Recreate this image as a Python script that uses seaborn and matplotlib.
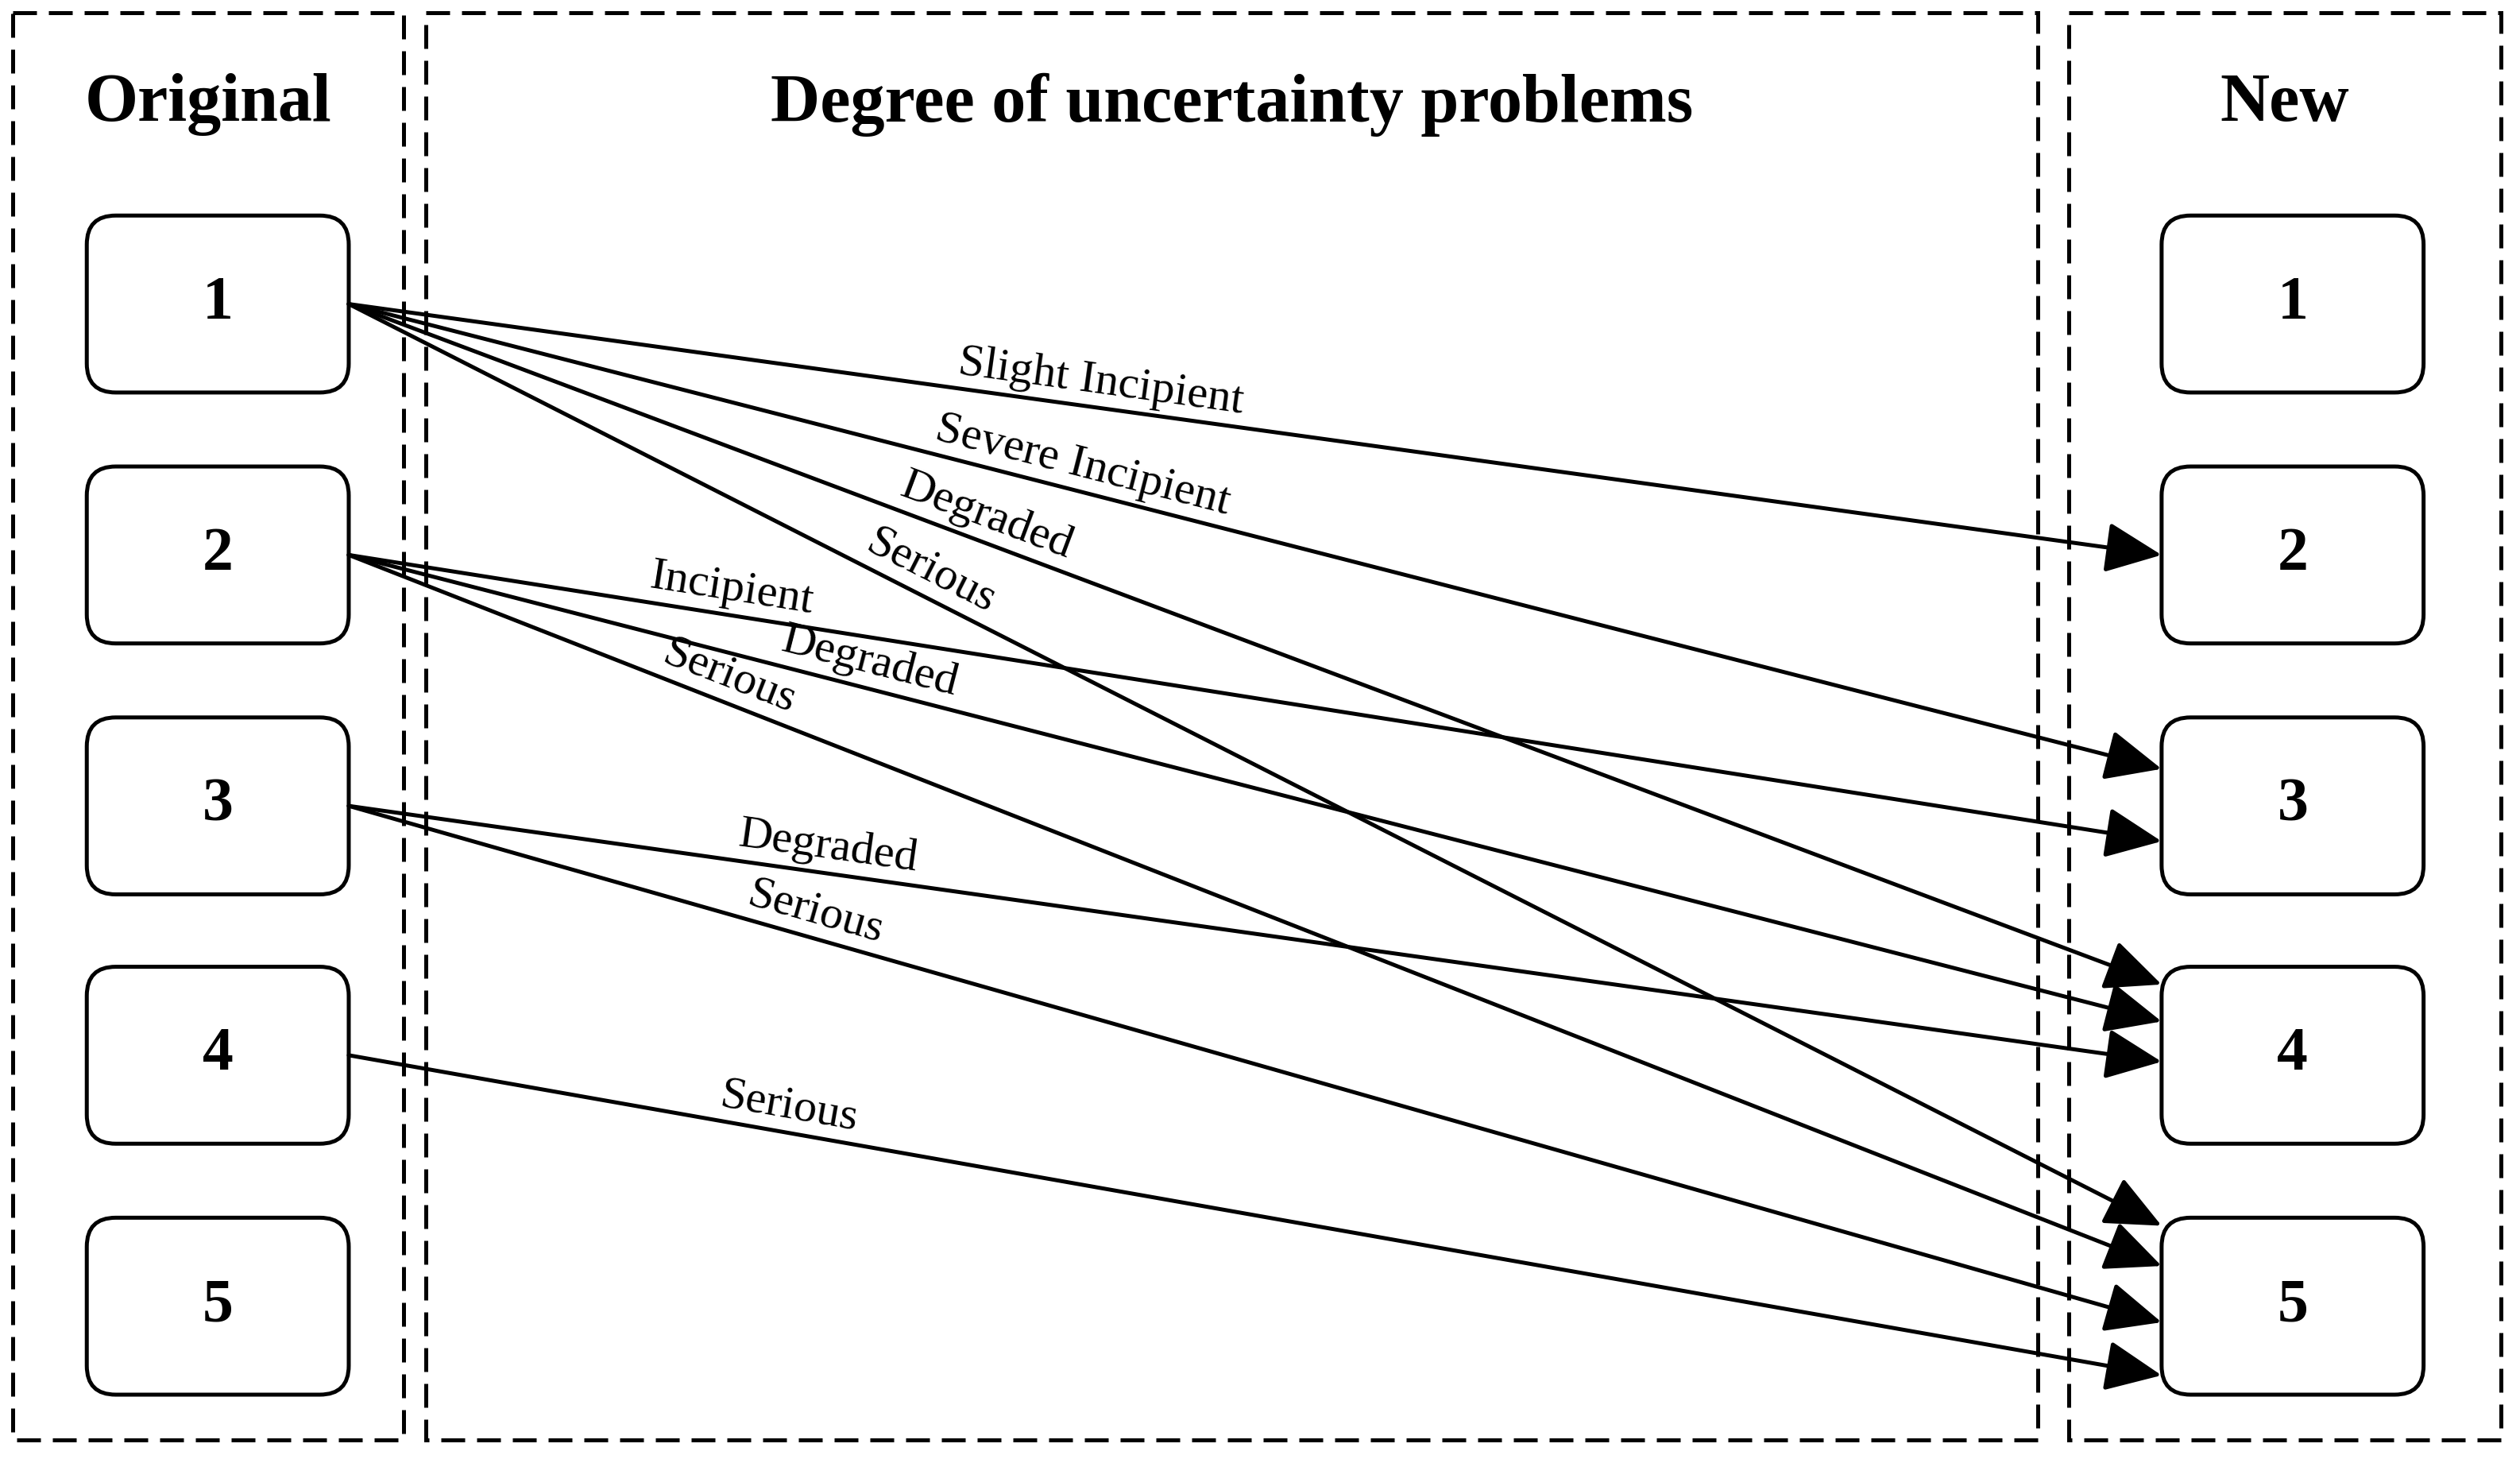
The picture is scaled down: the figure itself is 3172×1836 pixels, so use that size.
import numpy as np
import matplotlib
matplotlib.use("Agg")
import matplotlib.pyplot as plt
import seaborn as sns
from matplotlib.patches import FancyBboxPatch, Rectangle

sns.set_theme(style="white")
plt.rcParams['font.family'] = ['Liberation Serif', 'DejaVu Serif']
plt.rcParams['text.color'] = 'black'

# Data
node_labels = ["1", "2", "3", "4", "5"]
node_y = [189, 345, 501, 656, 812]
edge_src = [1, 1, 1, 1, 2, 2, 2, 3, 3, 4]
edge_dst = [2, 3, 4, 5, 3, 4, 5, 4, 5, 5]
edge_end_y = [345, 478, 612, 762, 523, 635, 787, 660, 822, 855]
edge_labels = ["Slight Incipient", "Severe Incipient", "Degraded", "Serious",
               "Incipient", "Degraded", "Serious", "Degraded", "Serious", "Serious"]
label_x = [683, 670, 608, 572, 453, 537, 448, 513, 503, 488]
panel_titles = ["Original", "Degree of uncertainty problems", "New"]

W, H = 1568, 907
fig = plt.figure(figsize=(15.86, 9.18), dpi=200)
ax = fig.add_axes([0, 0, 1, 1])
ax.set_xlim(0, W)
ax.set_ylim(H, 0)
ax.axis("off")

# Panels
panels = [(8, 251), (265, 1268), (1287, 1556)]
for (x0, x1), t in zip(panels, panel_titles):
    ax.add_patch(Rectangle((x0, 8), x1 - x0, 887, fill=False, ls=(0, (6, 3)), lw=1.8, ec="black"))
    ax.text((x0 + x1) / 2, 65, t, ha="center", va="center", fontsize=31,
            fontweight="bold", color="black")

# Boxes
lx0, lx1, rx0, rx1 = 54, 217, 1345, 1508
bh = 110
for lab, y in zip(node_labels, node_y):
    for x0, x1 in [(lx0, lx1), (rx0, rx1)]:
        ax.add_patch(FancyBboxPatch((x0, y - bh / 2), x1 - x0, bh,
                                    boxstyle="round,pad=0,rounding_size=18",
                                    fc="white", ec="black", lw=1.8))
        ax.text((x0 + x1) / 2, y, lab, ha="center", va="center", fontsize=28,
                fontweight="bold", color="black")

# Edges
for s, d, ey, lab, lxp in zip(edge_src, edge_dst, edge_end_y, edge_labels, label_x):
    sx, sy = lx1, node_y[s - 1]
    ex = rx0
    ax.annotate("", xy=(ex, ey), xytext=(sx, sy),
                arrowprops=dict(arrowstyle="-|>,head_length=1.0,head_width=0.45",
                                mutation_scale=22, lw=1.8, color="black",
                                shrinkA=0, shrinkB=0))
    slope = (ey - sy) / (ex - sx)
    ly = sy + slope * (lxp - sx)
    ang = np.degrees(np.arctan(slope))
    nx, ny = np.sin(np.radians(ang)), -np.cos(np.radians(ang))
    off = 16
    ax.text(lxp + nx * off, ly + ny * off, lab, ha="center", va="center",
            rotation=-ang, rotation_mode="anchor", fontsize=21, color="black")

fig.savefig("out.png", dpi=200, facecolor="white")
